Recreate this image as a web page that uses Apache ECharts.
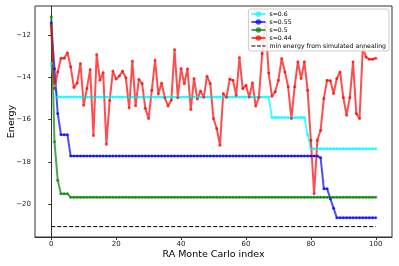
<!DOCTYPE html>
<html>
<head>
<meta charset="utf-8">
<script src="https://cdn.jsdelivr.net/npm/echarts@6/dist/echarts.min.js"></script>
<style>
  html, body { margin: 0; padding: 0; background: #fff; }
  #chart { width: 399px; height: 266px; }
</style>
</head>
<body>
<div id="chart"></div>
<script>
// RA Monte Carlo step index (x)
const steps = Array.from({ length: 101 }, (_, i) => i);

const xTicks = [0, 20, 40, 60, 80, 100];
const yTicks = [-20, -18, -16, -14, -12];

// s=0.6
const energyS060 = [
  -13.35, -14.4, -14.93, -14.93, -14.93, -14.93, -14.93, -14.93, -14.93, -14.93,
  -14.93, -14.93, -14.93, -14.93, -14.93, -14.93, -14.93, -14.93, -14.93, -14.93,
  -14.93, -14.93, -14.93, -14.93, -14.93, -14.93, -14.93, -14.93, -14.93, -14.93,
  -14.93, -14.93, -14.93, -14.93, -14.93, -14.93, -14.93, -14.93, -14.93, -14.93,
  -14.93, -14.93, -14.93, -14.93, -14.93, -14.93, -14.93, -14.93, -14.93, -14.93,
  -14.93, -14.93, -14.93, -14.93, -14.93, -14.93, -14.93, -14.93, -14.93, -14.93,
  -14.93, -14.93, -14.93, -14.93, -14.93, -14.93, -14.93, -14.93, -15.9, -15.9,
  -15.9, -15.9, -15.9, -15.9, -15.9, -15.9, -15.9, -15.9, -15.9, -16.7,
  -17.37, -17.37, -17.37, -17.37, -17.37, -17.37, -17.37, -17.37, -17.37, -17.37,
  -17.37, -17.37, -17.37, -17.37, -17.37, -17.37, -17.37, -17.37, -17.37, -17.37,
  -17.37
];

// s=0.55
const energyS055 = [
  -11.43, -13.6, -15.71, -16.72, -16.72, -16.72, -17.72, -17.72, -17.72, -17.72,
  -17.72, -17.72, -17.72, -17.72, -17.72, -17.72, -17.72, -17.72, -17.72, -17.72,
  -17.72, -17.72, -17.72, -17.72, -17.72, -17.72, -17.72, -17.72, -17.72, -17.72,
  -17.72, -17.72, -17.72, -17.72, -17.72, -17.72, -17.72, -17.72, -17.72, -17.72,
  -17.72, -17.72, -17.72, -17.72, -17.72, -17.72, -17.72, -17.72, -17.72, -17.72,
  -17.72, -17.72, -17.72, -17.72, -17.72, -17.72, -17.72, -17.72, -17.72, -17.72,
  -17.72, -17.72, -17.72, -17.72, -17.72, -17.72, -17.72, -17.72, -17.72, -17.72,
  -17.72, -17.72, -17.72, -17.72, -17.72, -17.72, -17.72, -17.72, -17.72, -17.72,
  -17.72, -17.72, -17.72, -17.8, -19.26, -19.26, -19.73, -20.18, -20.63, -20.63,
  -20.63, -20.63, -20.63, -20.63, -20.63, -20.63, -20.63, -20.63, -20.63, -20.63,
  -20.63
];

// s=0.5
const energyS050 = [
  -11.15, -17.04, -18.86, -19.5, -19.5, -19.5, -19.67, -19.67, -19.67, -19.67,
  -19.67, -19.67, -19.67, -19.67, -19.67, -19.67, -19.67, -19.67, -19.67, -19.67,
  -19.67, -19.67, -19.67, -19.67, -19.67, -19.67, -19.67, -19.67, -19.67, -19.67,
  -19.67, -19.67, -19.67, -19.67, -19.67, -19.67, -19.67, -19.67, -19.67, -19.67,
  -19.67, -19.67, -19.67, -19.67, -19.67, -19.67, -19.67, -19.67, -19.67, -19.67,
  -19.67, -19.67, -19.67, -19.67, -19.67, -19.67, -19.67, -19.67, -19.67, -19.67,
  -19.67, -19.67, -19.67, -19.67, -19.67, -19.67, -19.67, -19.67, -19.67, -19.67,
  -19.67, -19.67, -19.67, -19.67, -19.67, -19.67, -19.67, -19.67, -19.67, -19.67,
  -19.67, -19.67, -19.67, -19.67, -19.67, -19.67, -19.67, -19.67, -19.67, -19.67,
  -19.67, -19.67, -19.67, -19.67, -19.67, -19.67, -19.67, -19.67, -19.67, -19.67,
  -19.67
];

// s=0.44
const energyS044 = [
  -11.54, -14.53, -13.75, -13.1, -13.1, -12.85, -13.51, -14.49, -14.27, -13.35,
  -15.32, -14.53, -13.64, -16.75, -12.93, -14.14, -13.78, -17.16, -15.1, -13.71,
  -14.09, -13.94, -13.71, -14.03, -15.45, -13.24, -15.35, -14.1, -14.3, -15.47,
  -15.95, -14.61, -13.19, -14.79, -14.27, -14.97, -15.36, -15.08, -12.69, -14.97,
  -13.59, -14.31, -13.6, -15.52, -14.06, -15.03, -14.65, -14.95, -13.95, -14.3,
  -15.95, -16.42, -17.21, -14.77, -14.95, -14.09, -14.14, -14.85, -13.07, -14.55,
  -14.38, -14.93, -14.26, -15.36, -14.94, -12.88, -11.4, -13.8, -14.9, -14.69,
  -14.14, -13.12, -13.75, -14.45, -15.95, -14.45, -13.27, -14.06, -13.27, -14.61,
  -16.97, -19.5, -16.97, -16.5, -15.0, -14.14, -14.17, -14.77, -14.06, -13.75,
  -14.96, -15.79, -14.96, -13.27, -15.71, -15.95, -12.6, -13.05, -13.15, -13.15,
  -13.1
];

// min energy from simulated annealing
const annealX = [0, 100];
const annealY = [-21.05, -21.05];

const chart = echarts.init(document.getElementById('chart'));
const font = 'DejaVu Sans';
const minus = v => (v < 0 ? '\u2212' + Math.abs(v) : String(v));
// short dashed segment for the legend entry
const dashIcon = 'path://M0,0H4V1H0Z M5.5,0H9.5V1H5.5Z M11,0H14V1H11Z';

function pairs(xs, ys) {
  return xs.map((x, i) => [x, ys[i]]);
}

function dotLine(name, values, color) {
  return {
    name: name,
    type: 'line',
    data: pairs(steps, values),
    symbol: 'circle',
    symbolSize: 3,
    lineStyle: { color: color, width: 2, opacity: 0.7 },
    itemStyle: { color: color, opacity: 0.7 },
    emphasis: { disabled: true }
  };
}

const seriesNames = ['s=0.6', 's=0.55', 's=0.5', 's=0.44', 'min energy from simulated annealing'];

chart.setOption({
  animation: false,
  textStyle: { fontFamily: font },
  grid: {
    left: 35, right: 7, top: 6, bottom: 29,
    outerBoundsMode: 'none',
    show: true, borderColor: '#333', borderWidth: 1
  },
  legend: {
    orient: 'vertical',
    right: 10,
    top: 9,
    padding: [2, 3, 2, 2],
    itemWidth: 14,
    itemHeight: 7,
    itemGap: 2,
    symbolKeepAspect: true,
    backgroundColor: 'rgba(255,255,255,0.85)',
    borderColor: '#ccc',
    borderWidth: 1,
    borderRadius: 2,
    textStyle: { fontFamily: font, fontSize: 6.2, color: '#000', padding: [0, 0, 0, -1] },
    data: [
      seriesNames[0], seriesNames[1], seriesNames[2], seriesNames[3],
      { name: seriesNames[4], icon: dashIcon, itemStyle: { color: '#000' } }
    ]
  },
  xAxis: {
    type: 'value',
    min: -5,
    max: 105,
    name: 'RA Monte Carlo index',
    nameLocation: 'middle',
    nameGap: 13,
    nameMoveOverlap: false,
    nameTextStyle: { fontFamily: font, fontSize: 9.5, color: '#000' },
    axisLine: { show: true, lineStyle: { color: '#333', width: 1 } },
    axisTick: { show: true, length: 3, customValues: xTicks, lineStyle: { color: '#333' } },
    axisLabel: { customValues: xTicks, fontSize: 7, color: '#222', margin: 4, formatter: minus },
    splitLine: { show: false }
  },
  yAxis: {
    type: 'value',
    min: -21.54,
    max: -10.64,
    name: 'Energy',
    nameLocation: 'middle',
    nameGap: 18,
    nameMoveOverlap: false,
    nameTextStyle: { fontFamily: font, fontSize: 9.5, color: '#000' },
    axisLine: { show: true, lineStyle: { color: '#333', width: 1 } },
    axisTick: { show: true, length: 3, customValues: yTicks, lineStyle: { color: '#333' } },
    axisLabel: { customValues: yTicks, fontSize: 7, color: '#222', margin: 4, formatter: minus },
    splitLine: { show: false }
  },
  series: [
    dotLine(seriesNames[0], energyS060, '#00ffff'),
    dotLine(seriesNames[1], energyS055, '#0000ff'),
    dotLine(seriesNames[2], energyS050, '#008000'),
    dotLine(seriesNames[3], energyS044, '#ff0000'),
    {
      name: seriesNames[4],
      type: 'line',
      data: pairs(annealX, annealY),
      symbol: 'none',
      lineStyle: { color: '#000', width: 1, type: [4, 2] },
      itemStyle: { color: '#000' },
      emphasis: { disabled: true }
    }
  ]
});
</script>
</body>
</html>
